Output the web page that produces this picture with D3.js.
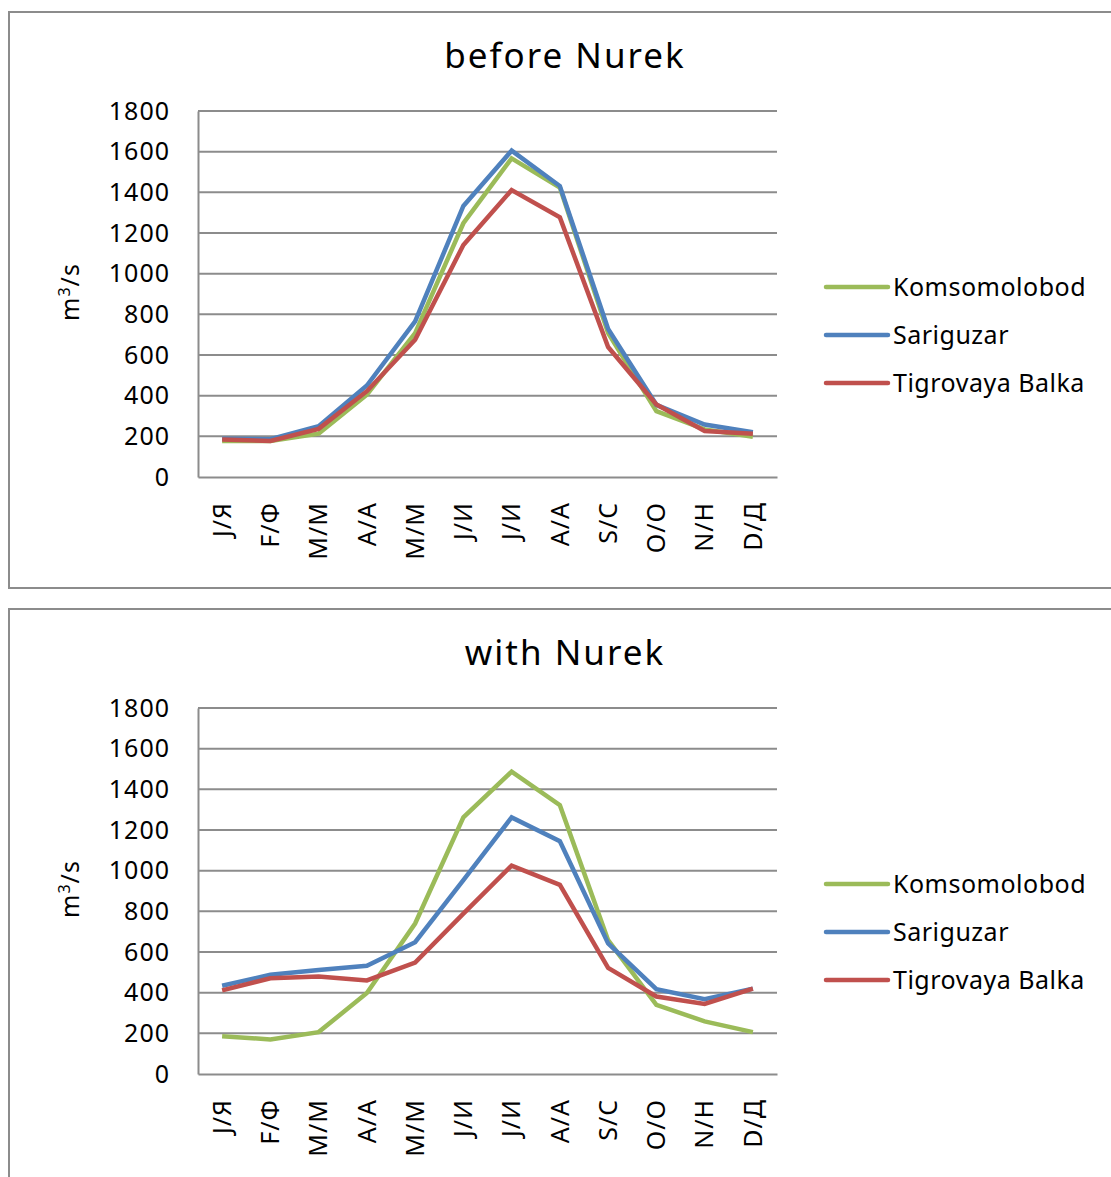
<!DOCTYPE html>
<html>
<head>
<meta charset="utf-8">
<script src="https://cdn.jsdelivr.net/npm/d3@7"></script>
<style>
  body { margin: 0; background: #fff; }
  svg text { font-family: "Noto Sans", "Open Sans", sans-serif; fill: #000; }
</style>
</head>
<body>
<div id="chart"></div>
<script>
// months, both languages
const months = ["J/Я", "F/Ф", "M/M", "A/A", "M/M", "J/И", "J/И", "A/A", "S/C", "O/O", "N/H", "D/Д"];
const seriesNames = ["Komsomolobod", "Sariguzar", "Tigrovaya Balka"];
const seriesColors = ["#9BBB59", "#4F81BD", "#C0504D"];
const yTicks = [0, 200, 400, 600, 800, 1000, 1200, 1400, 1600, 1800];

// before Nurek (m3/s)
const beforeKomsomolobod = [177, 177, 213, 405, 708, 1248, 1567, 1424, 708, 324, 234, 198];
const beforeSariguzar = [188, 186, 250, 450, 765, 1333, 1605, 1431, 728, 355, 258, 220];
const beforeTigrovaya = [185, 177, 237, 422, 675, 1141, 1411, 1277, 639, 357, 226, 213];

// with Nurek (m3/s)
const withKomsomolobod = [186, 170, 206, 398, 740, 1262, 1487, 1322, 658, 340, 259, 206];
const withSariguzar = [434, 488, 512, 532, 648, 953, 1262, 1145, 642, 417, 368, 420];
const withTigrovaya = [411, 471, 480, 460, 548, 789, 1025, 930, 522, 381, 345, 420];

const width = 1111;
const height = 1177;

const svg = d3.select("#chart").append("svg")
    .attr("width", width)
    .attr("height", height);

// plot area inside each panel
const plotLeft = 198, plotRight = 777;
const plotTop = 99, plotHeight = 366;

const x = d3.scaleBand()
    .domain(d3.range(months.length))
    .range([plotLeft, plotRight]);

const y = d3.scaleLinear()
    .domain([0, 1800])
    .range([plotTop + plotHeight, plotTop]);

function drawPanel(top, title, series) {
    const g = svg.append("g").attr("transform", `translate(0,${top})`);

    // panel frame (right / bottom run off the page like the original)
    g.append("rect")
        .attr("x", 9).attr("y", 0)
        .attr("width", 1120).attr("height", 576)
        .attr("fill", "none")
        .attr("stroke", "#8c8c8c")
        .attr("stroke-width", 2);

    g.append("text")
        .attr("x", 565).attr("y", 56)
        .attr("text-anchor", "middle")
        .attr("font-size", 35)
        .attr("letter-spacing", 2)
        .text(title);

    // gridlines
    g.append("g")
        .selectAll("line")
        .data(yTicks.filter(d => d > 0))
        .join("line")
        .attr("x1", plotLeft).attr("x2", plotRight)
        .attr("y1", d => y(d)).attr("y2", d => y(d))
        .attr("stroke", "#8c8c8c")
        .attr("stroke-width", 2);

    // y axis
    const yAxis = g.append("g")
        .attr("transform", `translate(${plotLeft},0)`)
        .call(d3.axisLeft(y).tickValues(yTicks).tickFormat(d3.format("d")).tickSize(0).tickPadding(28));
    yAxis.select(".domain").attr("stroke", "#8c8c8c").attr("stroke-width", 2);
    yAxis.selectAll("text")
        .attr("font-size", 25)
        .attr("letter-spacing", 1)
        .attr("font-family", "Noto Sans, sans-serif");

    // x axis
    const xAxis = g.append("g")
        .attr("transform", `translate(0,${plotTop + plotHeight})`)
        .call(d3.axisBottom(x).tickFormat(i => months[i]).tickSize(0));
    xAxis.select(".domain").attr("stroke", "#8c8c8c").attr("stroke-width", 2);
    xAxis.selectAll("text")
        .attr("font-size", 25)
        .attr("letter-spacing", 1)
        .attr("font-family", "Noto Sans, sans-serif")
        .attr("text-anchor", "end")
        .attr("transform", "rotate(-90)")
        .attr("x", -25)
        .attr("y", 0)
        .attr("dy", "0.35em");

    g.append("text")
        .attr("transform", `translate(79,${plotTop + plotHeight / 2 - 2}) rotate(-90)`)
        .attr("text-anchor", "middle")
        .attr("font-size", 25)
        .attr("letter-spacing", 1)
        .html("m<tspan font-size='16' dy='-9'>3</tspan><tspan dy='9'>/s</tspan>");

    const line = d3.line()
        .x((d, i) => x(i) + x.bandwidth() / 2)
        .y(d => y(d));

    g.append("g")
        .selectAll("path")
        .data(series)
        .join("path")
        .attr("d", d => line(d))
        .attr("fill", "none")
        .attr("stroke", (d, i) => seriesColors[i])
        .attr("stroke-width", 4.5)
        .attr("stroke-linejoin", "miter");

    // legend
    const legend = g.append("g")
        .selectAll("g")
        .data(seriesNames)
        .join("g")
        .attr("transform", (d, i) => `translate(826,${275 + i * 48})`);
    legend.append("line")
        .attr("x1", 0).attr("x2", 62)
        .attr("stroke", (d, i) => seriesColors[i])
        .attr("stroke-width", 4.5)
        .attr("stroke-linecap", "round");
    legend.append("text")
        .attr("x", 67).attr("dy", "0.35em")
        .attr("font-size", 25)
        .attr("letter-spacing", 0.5)
        .text(d => d);
}

drawPanel(12, "before Nurek", [beforeKomsomolobod, beforeSariguzar, beforeTigrovaya]);
drawPanel(609, "with Nurek", [withKomsomolobod, withSariguzar, withTigrovaya]);
</script>
</body>
</html>
